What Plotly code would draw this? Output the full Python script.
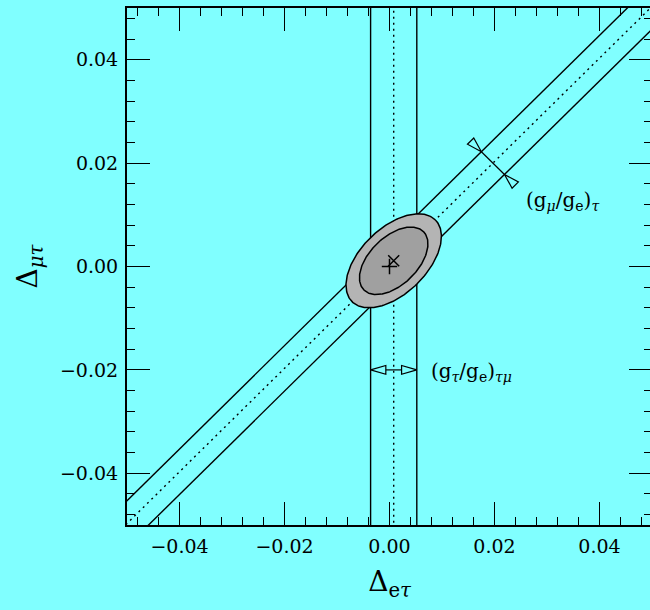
import numpy as np
import plotly.graph_objects as go

# axis ranges and tick spacing (both axes identical)
axis_range = [-0.05, 0.05]
major_step = 0.02
minor_step = 0.004

# (g_tau/g_e)_tau-mu constraint: vertical band in Delta_e-tau
vband_center = 0.0008
vband_half = 0.0044

# (g_mu/g_e)_tau constraint: band Delta_mu-tau = Delta_e-tau + offset
dband_offset = 0.0003
dband_half = 0.0044          # half width, measured along Delta_mu-tau

# combined fit point and Standard Model point
best_fit = [0.0008, 0.0011]
sm_point = [0.0, 0.0]

# confidence ellipses: semi-major, semi-minor, tilt (deg)
ellipse_outer = [0.0112, 0.0063, 45.0]
ellipse_inner = [0.0080, 0.0046, 45.0]
ellipse_colors = ["#b4b4b4", "#a0a0a0"]

# locations of the band-width arrows
vband_arrow_y = -0.0200
dband_arrow_x = 0.0197
head_len = 0.0029
head_half = 0.00085

# band labels
label_text = [
    "(g<sub><i>μ</i></sub>/g<sub>e</sub>)<sub><i>τ</i></sub>",
    "(g<sub><i>τ</i></sub>/g<sub>e</sub>)<sub><i>τμ</i></sub>",
]
label_x = [0.0256, 0.0075]
label_y = [0.0126, -0.0205]

BG = "#80ffff"
FONT = "DejaVu Serif"

fig = go.Figure()


def line(xs, ys, dash="solid", width=1.4):
    fig.add_trace(go.Scatter(x=xs, y=ys, mode="lines", hoverinfo="skip",
                             line=dict(color="black", width=width, dash=dash)))


dotted = "2px,4px"
far = [-0.06, 0.06]

# vertical band
for dx, ds in [(-vband_half, "solid"), (vband_half, "solid"), (0.0, dotted)]:
    xv = vband_center + dx
    line([xv, xv], far, ds)

# diagonal band
for dy, ds in [(dband_half, "solid"), (-dband_half, "solid"), (0.0, dotted)]:
    line(far, [far[0] + dband_offset + dy, far[1] + dband_offset + dy], ds)

# confidence ellipses
t = np.linspace(0, 2 * np.pi, 241)
for (a, b, ang), col in zip([ellipse_outer, ellipse_inner], ellipse_colors):
    th = np.radians(ang)
    ex = best_fit[0] + a * np.cos(t) * np.cos(th) - b * np.sin(t) * np.sin(th)
    ey = best_fit[1] + a * np.cos(t) * np.sin(th) + b * np.sin(t) * np.cos(th)
    fig.add_trace(go.Scatter(x=ex, y=ey, mode="lines", fill="toself",
                             fillcolor=col, hoverinfo="skip",
                             line=dict(color="black", width=1.5)))

# fit and SM markers
fig.add_trace(go.Scatter(x=[best_fit[0]], y=[best_fit[1]], mode="markers",
                         hoverinfo="skip",
                         marker=dict(symbol="x-thin", size=11,
                                     line=dict(color="black", width=1.5))))
fig.add_trace(go.Scatter(x=[sm_point[0]], y=[sm_point[1]], mode="markers",
                         hoverinfo="skip",
                         marker=dict(symbol="cross-thin", size=11,
                                     line=dict(color="black", width=1.5))))


def head(tip, direction):
    """Open triangular head whose point sits at tip, pointing along direction."""
    d = np.asarray(direction, float)
    d /= np.linalg.norm(d)
    n = np.array([-d[1], d[0]])
    tip = np.asarray(tip, float)
    base = tip - head_len * d
    p1 = base + head_half * n
    p2 = base - head_half * n
    pts = np.array([tip, p1, p2, tip])
    line(pts[:, 0], pts[:, 1], width=1.2)
    return base


# width arrow across the vertical band (heads point outward)
left_tip = [vband_center - vband_half, vband_arrow_y]
right_tip = [vband_center + vband_half, vband_arrow_y]
bl = head(left_tip, [-1, 0])
br = head(right_tip, [1, 0])
line([bl[0], br[0]], [bl[1], br[1]], width=1.2)

# width arrow across the diagonal band (heads point inward)
centre = np.array([dband_arrow_x, dband_arrow_x + dband_offset])
nrm = np.array([1.0, -1.0]) / np.sqrt(2)
perp_half = dband_half / np.sqrt(2)
upper_tip = centre - perp_half * nrm
lower_tip = centre + perp_half * nrm
head(upper_tip, nrm)
head(lower_tip, -nrm)
line([upper_tip[0], lower_tip[0]], [upper_tip[1], lower_tip[1]], width=1.2)

for txt, lx, ly in zip(label_text, label_x, label_y):
    fig.add_annotation(x=lx, y=ly, text=txt, showarrow=False, xanchor="left",
                       yanchor="middle", font=dict(family=FONT, size=20, color="black"))

axis_common = dict(
    range=axis_range, dtick=major_step, tick0=0, tickformat=".2f",
    ticks="inside", ticklen=23, tickwidth=1.3, tickcolor="black",
    minor=dict(dtick=minor_step, tick0=0, ticks="inside", ticklen=8,
               tickwidth=1.3, tickcolor="black"),
    showline=True, linecolor="black", linewidth=2, mirror="ticks",
    showgrid=False, zeroline=False,
    tickfont=dict(family=FONT, size=19, color="black"),
)

fig.update_layout(
    width=660, height=610,
    margin=dict(l=127, r=6, t=6, b=85),
    paper_bgcolor=BG, plot_bgcolor=BG,
    showlegend=False,
    xaxis=dict(axis_common, ticklabelstandoff=3,
               title=dict(text="Δ<sub>e<i>τ</i></sub>", standoff=16,
                          font=dict(family=FONT, size=28, color="black"))),
    yaxis=dict(axis_common, ticklabelstandoff=3,
               title=dict(text="Δ<sub><i>μτ</i></sub>", standoff=14,
                          font=dict(family=FONT, size=28, color="black"))),
)

fig.write_html("out.html",
               post_script="document.body.style.margin='0';"
                           "document.body.style.overflow='hidden';")
